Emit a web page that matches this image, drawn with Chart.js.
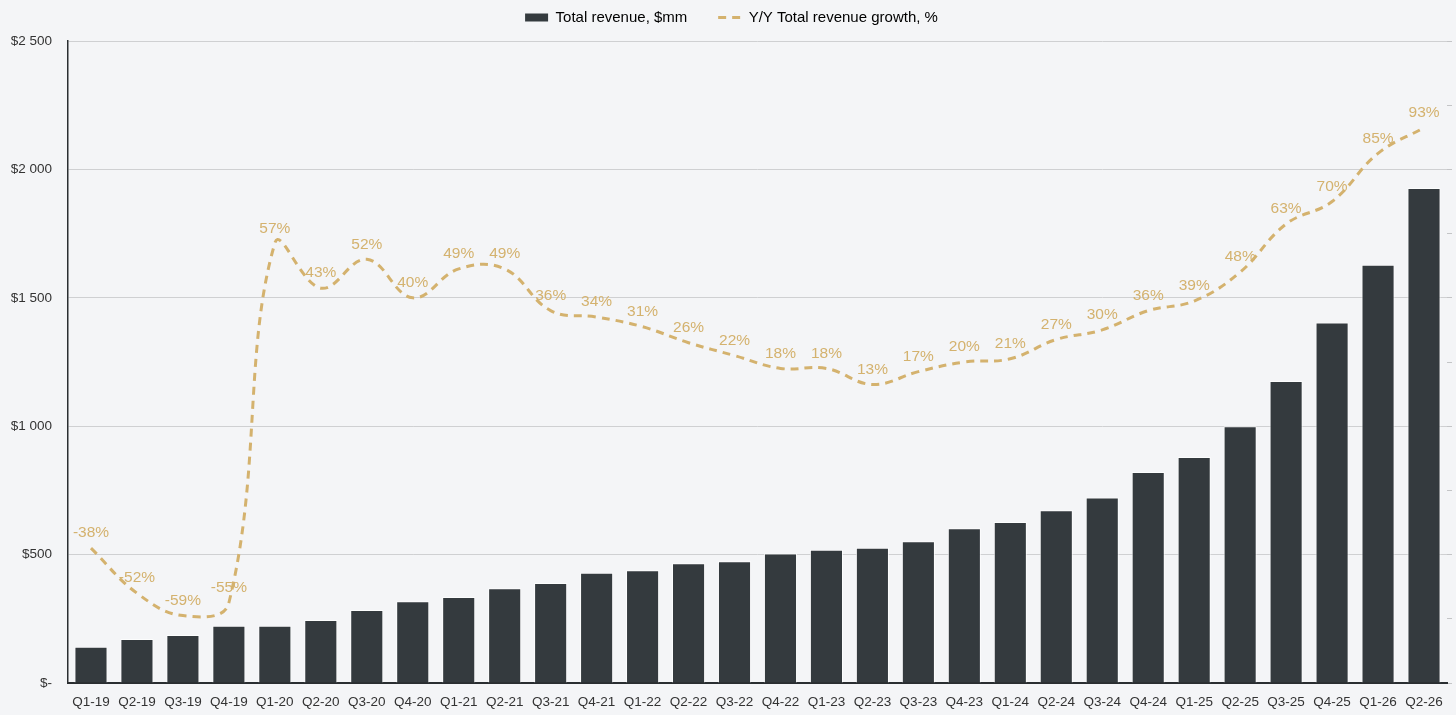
<!DOCTYPE html>
<html>
<head>
<meta charset="utf-8">
<title>Total revenue and Y/Y growth</title>
<script src="https://cdn.jsdelivr.net/npm/chart.js@4.4.1/dist/chart.umd.min.js"></script>
<style>
  html, body { margin: 0; padding: 0; background: #f4f5f7; }
  #wrap { width: 1456px; height: 715px; }
</style>
</head>
<body>
<div id="wrap"><canvas id="revenueChart"></canvas></div>
<script>
// Chart data
const quarters = [
  'Q1-19', 'Q2-19', 'Q3-19', 'Q4-19', 'Q1-20', 'Q2-20', 'Q3-20', 'Q4-20',
  'Q1-21', 'Q2-21', 'Q3-21', 'Q4-21', 'Q1-22', 'Q2-22', 'Q3-22', 'Q4-22',
  'Q1-23', 'Q2-23', 'Q3-23', 'Q4-23', 'Q1-24', 'Q2-24', 'Q3-24', 'Q4-24',
  'Q1-25', 'Q2-25', 'Q3-25', 'Q4-25', 'Q1-26', 'Q2-26'
];
const revenue = [
  141, 171, 187, 223, 223, 245, 284, 318,
  335, 369, 389, 429, 439, 466, 474, 504,
  519, 527, 552, 603, 627, 673, 722, 822,
  880, 1000, 1176, 1404, 1629, 1928
];
const growth = [
  -38, -52, -59, -55, 57, 43, 52, 40,
  49, 49, 36, 34, 31, 26, 22, 18,
  18, 13, 17, 20, 21, 27, 30, 36,
  39, 48, 63, 70, 85, 93
];
const revenueTicks = [0, 500, 1000, 1500, 2000, 2500];
const growthTicks = [-80, -60, -40, -20, 0, 20, 40, 60, 80, 100, 120];

const barColor = '#343a3e';
const gold = '#d4b26e';
const fontFamily = '"Liberation Sans", Arial, Helvetica, sans-serif';

const fmtDollars = (v) => v === 0 ? '$-' : '$' + String(v).replace(/\B(?=(\d{3})+(?!\d))/g, ' ');

// push the plot area a bit below the legend
const legendSpacer = {
  id: 'legendSpacer',
  beforeInit(chart) {
    const fit = chart.legend.fit;
    chart.legend.fit = function () {
      fit.bind(chart.legend)();
      this.height += 6;
    };
  }
};

// percentage labels over the growth line
const growthLabels = {
  id: 'growthLabels',
  afterDatasetsDraw(chart) {
    const meta = chart.getDatasetMeta(1);
    const ctx = chart.ctx;
    ctx.save();
    ctx.font = '15.5px ' + fontFamily;
    ctx.fillStyle = gold;
    ctx.textAlign = 'center';
    ctx.textBaseline = 'middle';
    meta.data.forEach((pt, i) => {
      ctx.fillText(growth[i] + '%', pt.x, pt.y - 15);
    });
    ctx.restore();
  }
};

const ctx = document.getElementById('revenueChart').getContext('2d');
const chart = new Chart(ctx, {
  data: {
    labels: quarters,
    datasets: [
      {
        type: 'bar',
        label: 'Total revenue, $mm',
        data: revenue,
        yAxisID: 'y',
        backgroundColor: barColor,
        borderColor: 'rgba(255,255,255,0.75)',
        borderWidth: 1,
        barPercentage: 0.72,
        categoryPercentage: 1,
        order: 1
      },
      {
        type: 'line',
        label: 'Y/Y Total revenue growth, %',
        data: growth,
        yAxisID: 'y1',
        borderColor: gold,
        borderWidth: 3,
        borderDash: [8, 6],
        pointRadius: 0,
        fill: false,
        tension: 0.4,
        order: 0
      }
    ]
  },
  options: {
    responsive: true,
    maintainAspectRatio: false,
    animation: false,
    layout: { padding: { left: 11, right: 4, top: 0, bottom: 6 } },
    plugins: {
      tooltip: { enabled: false },
      legend: {
        position: 'top',
        labels: {
          usePointStyle: true,
          pointStyleWidth: 23,
          boxHeight: 8,
          padding: 10,
          color: '#222',
          font: { family: fontFamily, size: 15 },
          generateLabels: () => [
            { text: 'Total revenue, $mm     ', fillStyle: barColor, strokeStyle: barColor, lineWidth: 0, pointStyle: 'rect', datasetIndex: 0, hidden: false },
            { text: 'Y/Y Total revenue growth, %', fillStyle: 'rgba(0,0,0,0)', strokeStyle: gold, lineWidth: 3, lineDash: [8, 6], pointStyle: 'line', datasetIndex: 1, hidden: false }
          ]
        }
      }
    },
    scales: {
      x: {
        grid: { display: false },
        border: { display: true, color: '#2a2e31', width: 2 },
        afterFit: (axis) => { axis.height = 26; },
        ticks: {
          color: '#333',
          padding: 3,
          maxRotation: 0,
          autoSkip: false,
          font: { family: fontFamily, size: 13.5 }
        }
      },
      y: {
        position: 'left',
        min: revenueTicks[0],
        max: revenueTicks[revenueTicks.length - 1],
        afterBuildTicks: (axis) => { axis.ticks = revenueTicks.map(v => ({ value: v })); },
        afterFit: (axis) => { axis.width = 57; },
        grid: { color: '#cfd0d2', lineWidth: 1, drawTicks: false },
        border: { display: true, color: '#2a2e31', width: 1.5 },
        ticks: {
          color: '#333',
          padding: 16,
          autoSkip: false,
          font: { family: fontFamily, size: 13.5 },
          callback: (v) => fmtDollars(v)
        }
      },
      y1: {
        position: 'right',
        min: growthTicks[0],
        max: growthTicks[growthTicks.length - 1],
        afterBuildTicks: (axis) => { axis.ticks = growthTicks.map(v => ({ value: v })); },
        afterFit: (axis) => { axis.width = 5; },
        ticks: { display: false, autoSkip: false },
        grid: { drawOnChartArea: false, drawTicks: true, tickLength: 5, color: '#c4c5c7' },
        border: { display: false }
      }
    }
  },
  plugins: [legendSpacer, growthLabels]
});
</script>
</body>
</html>
